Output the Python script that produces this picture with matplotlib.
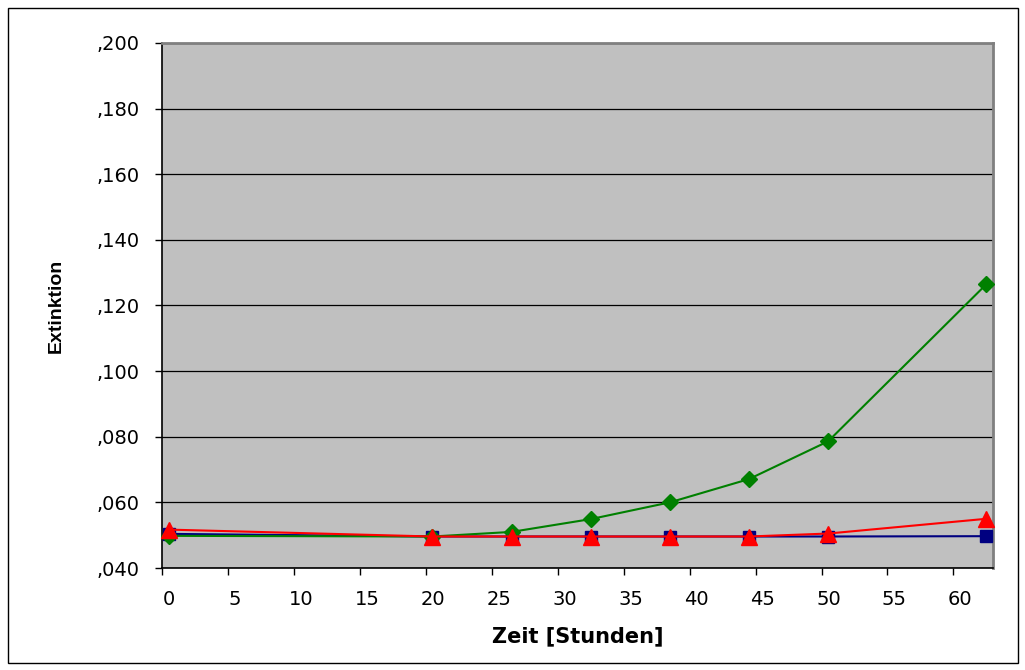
import matplotlib
matplotlib.use("Agg")
import matplotlib.pyplot as plt
import matplotlib.transforms as mtransforms
from matplotlib.ticker import FuncFormatter, MultipleLocator

plt.rcParams["font.family"] = ["DejaVu Sans"]

# --- Daten ---
zeit = [0.5, 20.5, 26.5, 32.5, 38.5, 44.5, 50.5, 62.5]
blau = [0.0504, 0.0496, 0.0496, 0.0496, 0.0496, 0.0496, 0.0496, 0.0497]
gruen = [0.0498, 0.0496, 0.0510, 0.0549, 0.0600, 0.0671, 0.0786, 0.1265]
rot = [0.0517, 0.0496, 0.0496, 0.0496, 0.0496, 0.0496, 0.0505, 0.0550]

x_ticks = list(range(0, 61, 5))

fig = plt.figure(figsize=(10.25, 6.7), dpi=100)
fig.patch.set_facecolor("white")

# Rahmen um das ganze Diagramm
fig.add_artist(plt.Rectangle((8 / 1025, 1 - 663 / 670), 1010 / 1025, 655 / 670,
                             transform=fig.transFigure, fill=False,
                             edgecolor="black", linewidth=1.0))

ax = fig.add_axes([162 / 1025, 1 - 568 / 670, 831 / 1025, 525 / 670])
ax.set_facecolor("#c0c0c0")

ax.plot(zeit, blau, color="#000080", linewidth=1.5, marker="s",
        markersize=9, zorder=3, clip_on=False)
ax.plot(zeit, gruen, color="#008000", linewidth=1.5, marker="D",
        markersize=8, zorder=4, clip_on=False)
ax.plot(zeit, rot, color="#ff0000", linewidth=1.5, marker="^",
        markersize=11, zorder=5, clip_on=False)

ax.set_xlim(0, 63)
ax.set_ylim(0.040, 0.200)
ax.set_xticks(x_ticks)
ax.yaxis.set_major_locator(MultipleLocator(0.02))
ax.yaxis.set_major_formatter(FuncFormatter(lambda v, p: f"{v:.3f}"[1:].replace(".", ",")))
ax.grid(axis="y", color="black", linewidth=0.9)
ax.set_axisbelow(True)

for s in ("left", "bottom"):
    ax.spines[s].set_color("black")
    ax.spines[s].set_linewidth(1.2)
for s in ("top", "right"):
    ax.spines[s].set_color("#808080")
    ax.spines[s].set_linewidth(2.0)

ax.tick_params(axis="both", direction="out", length=5, width=1, labelsize=14)
ax.tick_params(axis="y", pad=11)
ax.tick_params(axis="x", pad=11)

# Excel setzt die x-Beschriftungen leicht nach rechts versetzt
offset = mtransforms.ScaledTranslation(7 / 100, 0, fig.dpi_scale_trans)
for lbl in ax.get_xticklabels():
    lbl.set_transform(lbl.get_transform() + offset)

ax.set_xlabel("Zeit [Stunden]", fontsize=15, fontweight="bold", labelpad=12)
ax.set_ylabel("Extinktion", fontsize=14, fontweight="bold", labelpad=23,
              family=["Liberation Sans", "DejaVu Sans"])

plt.savefig("out.png", dpi=100, facecolor=fig.get_facecolor())
